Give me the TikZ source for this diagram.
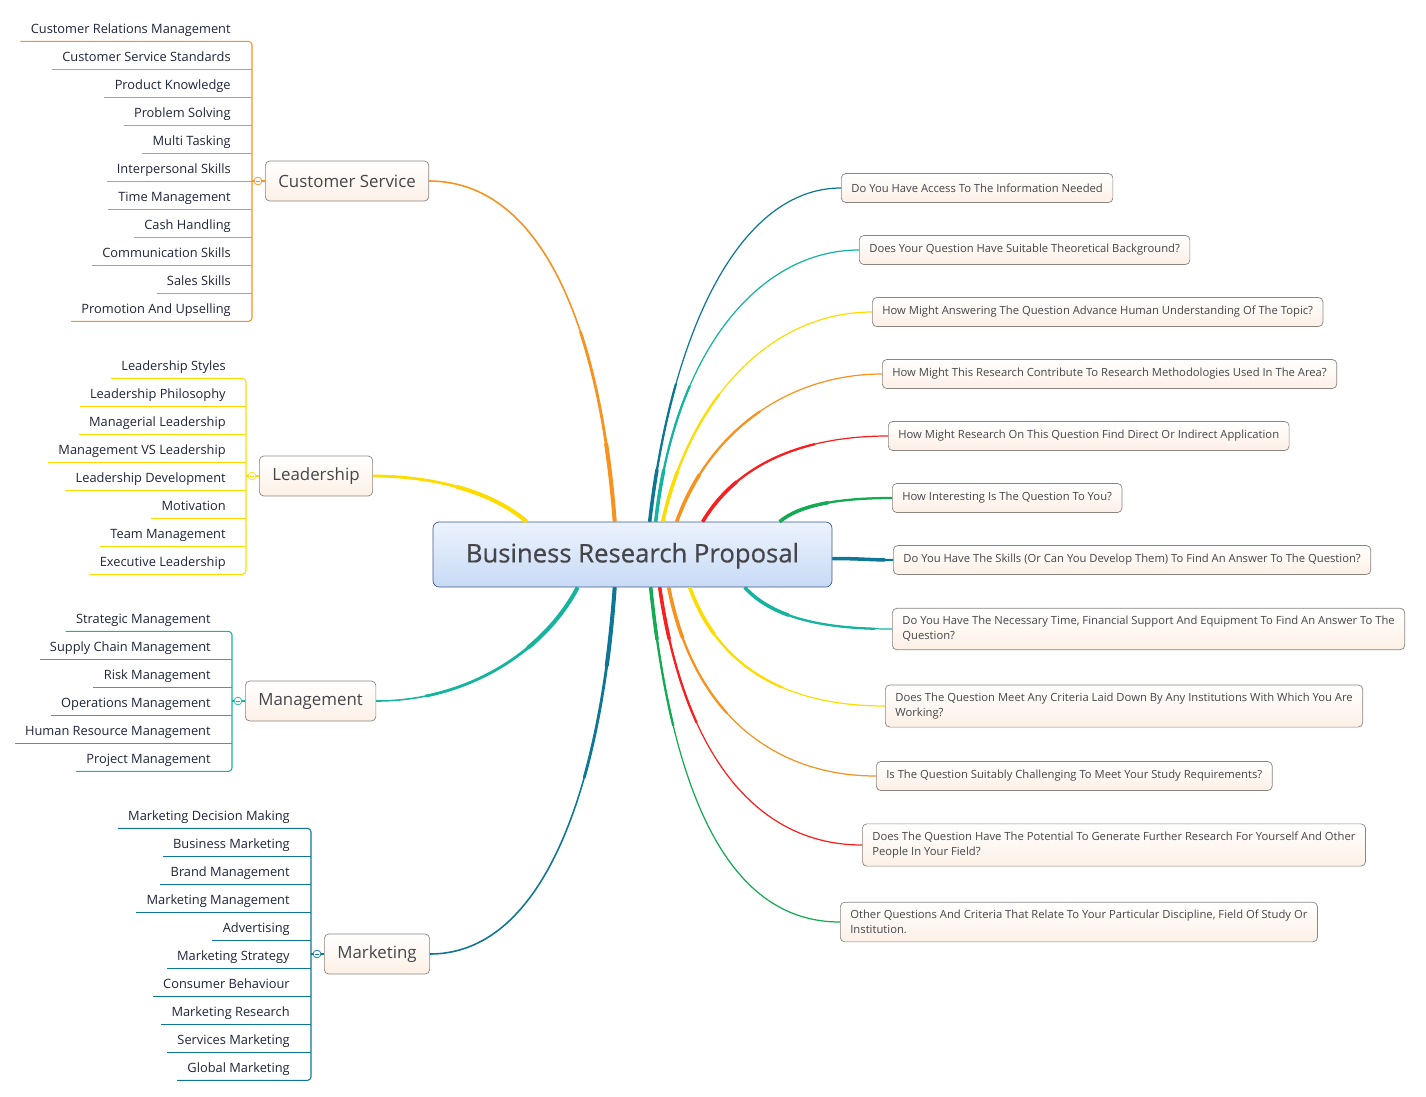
\documentclass[tikz,border=0pt]{standalone}
\usepackage{fontspec}
\setmainfont{Open Sans}
\newfontfamily\centrefont[FakeBold=0.6]{Open Sans}
\usepackage{xcolor}
\usetikzlibrary{calc}

\definecolor{mapblue}{RGB}{14,118,150}
\definecolor{mapteal}{RGB}{22,180,158}
\definecolor{mapyellow}{RGB}{255,220,0}
\definecolor{maporange}{RGB}{247,146,30}
\definecolor{mapred}{RGB}{250,30,30}
\definecolor{mapgreen}{RGB}{18,170,82}
\definecolor{boxline}{RGB}{140,132,128}
\definecolor{boxfill}{RGB}{253,240,230}
\definecolor{centtop}{RGB}{236,243,253}
\definecolor{centbot}{RGB}{200,218,246}
\definecolor{centline}{RGB}{60,88,140}
\definecolor{inktext}{RGB}{30,36,58}
\definecolor{greytext}{RGB}{70,70,74}

\begin{document}
\begin{tikzpicture}[
    x=0.02cm, y=-0.02cm,
    centre/.style={rectangle, draw=centline, top color=centtop, bottom color=centbot, rounded corners=3.5pt, minimum width=7.98cm, minimum height=1.3cm, text height=10pt, text depth=1pt, font=\centrefont\fontsize{14.6}{16}\selectfont, text=greytext},
    topic/.style={rectangle, draw=boxline, top color=white, bottom color=boxfill, rounded corners=2.5pt, anchor=west, minimum height=0.8cm, inner xsep=0.26cm, font=\fontsize{9.6}{11}\selectfont, text=greytext},
    quest/.style={rectangle, draw=boxline, top color=white, bottom color=boxfill, rounded corners=2.5pt, anchor=west, align=left, minimum height=0.58cm, inner xsep=0.2cm, inner ysep=0.16cm, font=\fontsize{6.4}{8.5}\selectfont, text=greytext},
    leaf/.style={anchor=east, inner xsep=0.2cm, inner ysep=0pt, minimum height=0.52cm, text height=6.7pt, text depth=0.5pt, font=\fontsize{7.3}{9}\selectfont, text=inktext},
    knob/.style={circle, draw, fill=white, inner sep=0pt, minimum size=4.4pt},
    trunk/.style={draw=#1, line width=0.9pt, preaction={draw=#1, line width=1.6pt, dash pattern=on 110pt off 2000pt}, preaction={draw=#1, line width=2.3pt, dash pattern=on 45pt off 2000pt}},
    limb/.style={draw=#1, line width=0.7pt, preaction={draw=#1, line width=1.3pt, dash pattern=on 80pt off 2000pt}, preaction={draw=#1, line width=2pt, dash pattern=on 30pt off 2000pt}},
    twig/.style={line width=0.6pt},
]
\useasboundingbox (0,0) rectangle (1426,1096);

\node[centre] (brp) at (632.5,554.5) {Business Research Proposal};

\node[topic] (custserv) at (265,181) {Customer Service};
\node[topic] (leader) at (259,476) {Leadership};
\node[topic] (manage) at (245,701) {Management};
\node[topic] (market) at (324,954) {Marketing};

\node[quest] (q1) at (841,188) {Do You Have Access To The Information Needed};
\node[quest] (q2) at (859,250) {Does Your Question Have Suitable Theoretical Background?};
\node[quest] (q3) at (872,312) {How Might Answering The Question Advance Human Understanding Of The Topic?};
\node[quest] (q4) at (882,374) {How Might This Research Contribute To Research Methodologies Used In The Area?};
\node[quest] (q5) at (888,436) {How Might Research On This Question Find Direct Or Indirect Application};
\node[quest] (q6) at (892,498) {How Interesting Is The Question To You?};
\node[quest] (q7) at (893,560) {Do You Have The Skills (Or Can You Develop Them) To Find An Answer To The Question?};
\node[quest] (q8) at (892,629) {Do You Have The Necessary Time, Financial Support And Equipment To Find An Answer To The\\Question?};
\node[quest] (q9) at (885,706) {Does The Question Meet Any Criteria Laid Down By Any Institutions With Which You Are\\Working?};
\node[quest] (q10) at (876,776) {Is The Question Suitably Challenging To Meet Your Study Requirements?};
\node[quest] (q11) at (862,845) {Does The Question Have The Potential To Generate Further Research For Yourself And Other\\People In Your Field?};
\node[quest] (q12) at (840,922) {Other Questions And Criteria That Relate To Your Particular Discipline, Field Of Study Or\\Institution.};

\draw[trunk=maporange] ($(brp.north west)+(182,0)$) .. controls +(-15,-202) and +(109,0) .. (custserv.east);
\draw[trunk=mapyellow] ($(brp.north west)+(94,0)$) .. controls +(-37,-32) and +(56,0) .. (leader.east);
\draw[trunk=mapteal] ($(brp.south west)+(145,0)$) .. controls +(-33,63) and +(93,0) .. (manage.east);
\draw[trunk=mapblue] ($(brp.south west)+(182,0)$) .. controls +(-15,213) and +(109,0) .. (market.east);

\draw[limb=mapblue] ($(brp.north west)+(217,0)$) .. controls +(22,-192) and +(-101,0) .. (q1.west);
\draw[limb=mapteal] ($(brp.north west)+(223,0)$) .. controls +(19,-172) and +(-99,0) .. (q2.west);
\draw[limb=mapyellow] ($(brp.north west)+(230,0)$) .. controls +(27,-122) and +(-102,0) .. (q3.west);
\draw[limb=maporange] ($(brp.north west)+(244,0)$) .. controls +(33,-92) and +(-92,0) .. (q4.west);
\draw[limb=mapred] ($(brp.north west)+(270,0)$) .. controls +(37,-62) and +(-78,0) .. (q5.west);
\draw[limb=mapgreen] ($(brp.north west)+(347,0)$) .. controls +(20,-17) and +(-52,0) .. (q6.west);
\draw[limb=mapblue] ($(brp.east)+(0,4)$) .. controls +(28,0) and +(-23,0) .. (q7.west);
\draw[limb=mapteal] ($(brp.south west)+(312,0)$) .. controls +(30,33) and +(-62,0) .. (q8.west);
\draw[limb=mapyellow] ($(brp.south west)+(257,0)$) .. controls +(30,83) and +(-95,0) .. (q9.west);
\draw[limb=maporange] ($(brp.south west)+(236,0)$) .. controls +(26,133) and +(-96,0) .. (q10.west);
\draw[limb=mapred] ($(brp.south west)+(227,0)$) .. controls +(25,173) and +(-102,0) .. (q11.west);
\draw[limb=mapgreen] ($(brp.south west)+(218,0)$) .. controls +(24,233) and +(-100,0) .. (q12.west);

\coordinate (csbar) at (252,181);
\node[knob, draw=maporange] (csknob) at (258,181) {};
\foreach \t [count=\i] in {Customer Relations Management, Customer Service Standards, Product Knowledge, Problem Solving, Multi Tasking, Interpersonal Skills, Time Management, Cash Handling, Communication Skills, Sales Skills, Promotion And Upselling}
  \node[leaf] (cs\i) at (241,28*\i) {\t};
\draw[twig, maporange, rounded corners=2pt] (cs1.south west) -- (cs1.south -| csbar) -- (cs11.south -| csbar) -- (cs11.south west);
\foreach \i in {2,...,10}
  \draw[twig, maporange] (cs\i.south west) -- (cs\i.south -| csbar);
\draw[twig, maporange] (csbar) -- (csknob) -- (custserv);
\draw[maporange, line width=0.4pt] ([xshift=-1.3pt]csknob.center) -- ([xshift=1.3pt]csknob.center);

\coordinate (ldbar) at (246,476);
\node[knob, draw=mapyellow] (ldknob) at (252,476) {};
\foreach \t [count=\i] in {Leadership Styles, Leadership Philosophy, Managerial Leadership, Management VS Leadership, Leadership Development, Motivation, Team Management, Executive Leadership}
  \node[leaf] (ld\i) at (236,337+28*\i) {\t};
\draw[twig, mapyellow, rounded corners=2pt] (ld1.south west) -- (ld1.south -| ldbar) -- (ld8.south -| ldbar) -- (ld8.south west);
\foreach \i in {2,...,7}
  \draw[twig, mapyellow] (ld\i.south west) -- (ld\i.south -| ldbar);
\draw[twig, mapyellow] (ldbar) -- (ldknob) -- (leader);
\draw[mapyellow, line width=0.4pt] ([xshift=-1.3pt]ldknob.center) -- ([xshift=1.3pt]ldknob.center);

\coordinate (mgbar) at (232,701);
\node[knob, draw=mapteal] (mgknob) at (238,701) {};
\foreach \t [count=\i] in {Strategic Management, Supply Chain Management, Risk Management, Operations Management, Human Resource Management, Project Management}
  \node[leaf] (mg\i) at (221,590+28*\i) {\t};
\draw[twig, mapteal, rounded corners=2pt] (mg1.south west) -- (mg1.south -| mgbar) -- (mg6.south -| mgbar) -- (mg6.south west);
\foreach \i in {2,...,5}
  \draw[twig, mapteal] (mg\i.south west) -- (mg\i.south -| mgbar);
\draw[twig, mapteal] (mgbar) -- (mgknob) -- (manage);
\draw[mapteal, line width=0.4pt] ([xshift=-1.3pt]mgknob.center) -- ([xshift=1.3pt]mgknob.center);

\coordinate (mkbar) at (311,954);
\node[knob, draw=mapblue] (mkknob) at (317,954) {};
\foreach \t [count=\i] in {Marketing Decision Making, Business Marketing, Brand Management, Marketing Management, Advertising, Marketing Strategy, Consumer Behaviour, Marketing Research, Services Marketing, Global Marketing}
  \node[leaf] (mk\i) at (300,787+28*\i) {\t};
\draw[twig, mapblue, rounded corners=2pt] (mk1.south west) -- (mk1.south -| mkbar) -- (mk10.south -| mkbar) -- (mk10.south west);
\foreach \i in {2,...,9}
  \draw[twig, mapblue] (mk\i.south west) -- (mk\i.south -| mkbar);
\draw[twig, mapblue] (mkbar) -- (mkknob) -- (market);
\draw[mapblue, line width=0.4pt] ([xshift=-1.3pt]mkknob.center) -- ([xshift=1.3pt]mkknob.center);
\end{tikzpicture}
\end{document}
